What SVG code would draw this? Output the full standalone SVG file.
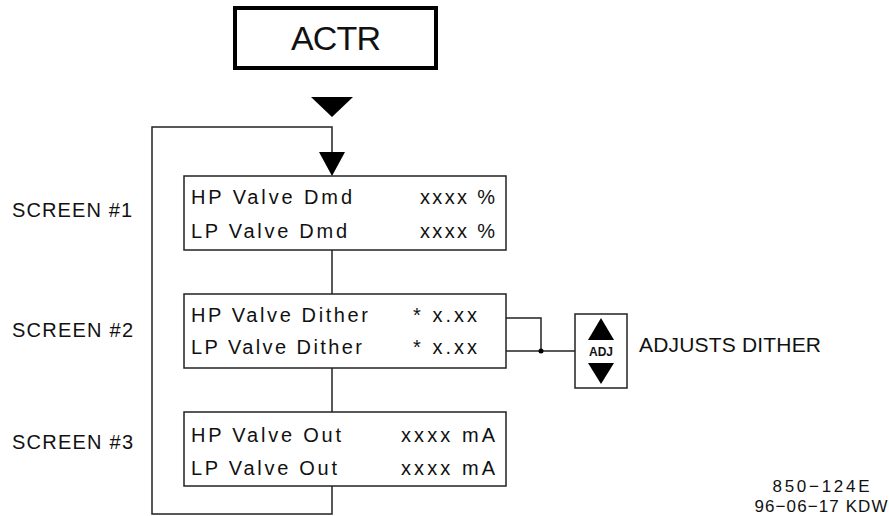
<svg xmlns="http://www.w3.org/2000/svg" width="889" height="516" viewBox="0 0 889 516">
<style>
text{font-family:"Liberation Sans",Arial,sans-serif;fill:#111;}
.t{font-size:20px;}
.box{fill:#fff;stroke:#222;stroke-width:1.5;}
.ln{fill:none;stroke:#222;stroke-width:1.5;}
.tri{fill:#000;}
</style>
<rect width="889" height="516" fill="#fff"/>
<g id="actr">
<rect x="235" y="8" width="201" height="60" fill="#fff" stroke="#000" stroke-width="4"/>
<text x="336" y="50" font-size="34" text-anchor="middle" textLength="90" lengthAdjust="spacing">ACTR</text>
</g>
<g id="connectors">
<polygon class="tri" points="311,97 353,97 332,117"/>
<polyline class="ln" points="332,152 332,127 152,127 152,514 332,514 332,486"/>
<polygon class="tri" points="319,152 345,152 332,176"/>
<line class="ln" x1="332" y1="250" x2="332" y2="294"/>
<line class="ln" x1="332" y1="368" x2="332" y2="412"/>
<polyline class="ln" points="506,318 541,318 541,351"/>
<line class="ln" x1="506" y1="351" x2="575" y2="351"/>
<circle cx="541" cy="351" r="2.5" fill="#000"/>
</g>
<g id="labels">
<text class="t" x="12" y="217" textLength="120" lengthAdjust="spacing">SCREEN #1</text>
<text class="t" x="12" y="337" textLength="121" lengthAdjust="spacing">SCREEN #2</text>
<text class="t" x="12" y="449" textLength="121" lengthAdjust="spacing">SCREEN #3</text>
</g>
<g id="screen1">
<rect class="box" x="184" y="176" width="322" height="74"/>
<text class="t" x="191" y="204" textLength="161" lengthAdjust="spacing">HP Valve Dmd</text>
<text class="t" x="420" y="204" textLength="75" lengthAdjust="spacing">xxxx %</text>
<text class="t" x="191" y="238" textLength="156" lengthAdjust="spacing">LP Valve Dmd</text>
<text class="t" x="420" y="238" textLength="75" lengthAdjust="spacing">xxxx %</text>
</g>
<g id="screen2">
<rect class="box" x="184" y="294" width="322" height="74"/>
<text class="t" x="191" y="322" textLength="177" lengthAdjust="spacing">HP Valve Dither</text>
<text class="t" x="413" y="322" textLength="64" lengthAdjust="spacing">* x.xx</text>
<text class="t" x="191" y="354" textLength="171" lengthAdjust="spacing">LP Valve Dither</text>
<text class="t" x="413" y="354" textLength="64" lengthAdjust="spacing">* x.xx</text>
</g>
<g id="screen3">
<rect class="box" x="184" y="412" width="322" height="74"/>
<text class="t" x="191" y="442" textLength="150" lengthAdjust="spacing">HP Valve Out</text>
<text class="t" x="401" y="442" textLength="94" lengthAdjust="spacing">xxxx mA</text>
<text class="t" x="191" y="475" textLength="146" lengthAdjust="spacing">LP Valve Out</text>
<text class="t" x="401" y="475" textLength="94" lengthAdjust="spacing">xxxx mA</text>
</g>
<g id="adj">
<rect class="box" x="575" y="314" width="52" height="74"/>
<polygon class="tri" points="601,318 614,340 588,340"/>
<text x="601" y="356" font-size="12" font-weight="bold" text-anchor="middle">ADJ</text>
<polygon class="tri" points="588,363 614,363 601,384"/>
<text x="639" y="352" font-size="21" textLength="182" lengthAdjust="spacing">ADJUSTS DITHER</text>
</g>
<g id="stamp">
<text x="821" y="492" font-size="17" text-anchor="middle" textLength="97" lengthAdjust="spacing">850−124E</text>
<text x="821" y="512" font-size="17" text-anchor="middle" textLength="133" lengthAdjust="spacing">96−06−17 KDW</text>
</g>
</svg>
